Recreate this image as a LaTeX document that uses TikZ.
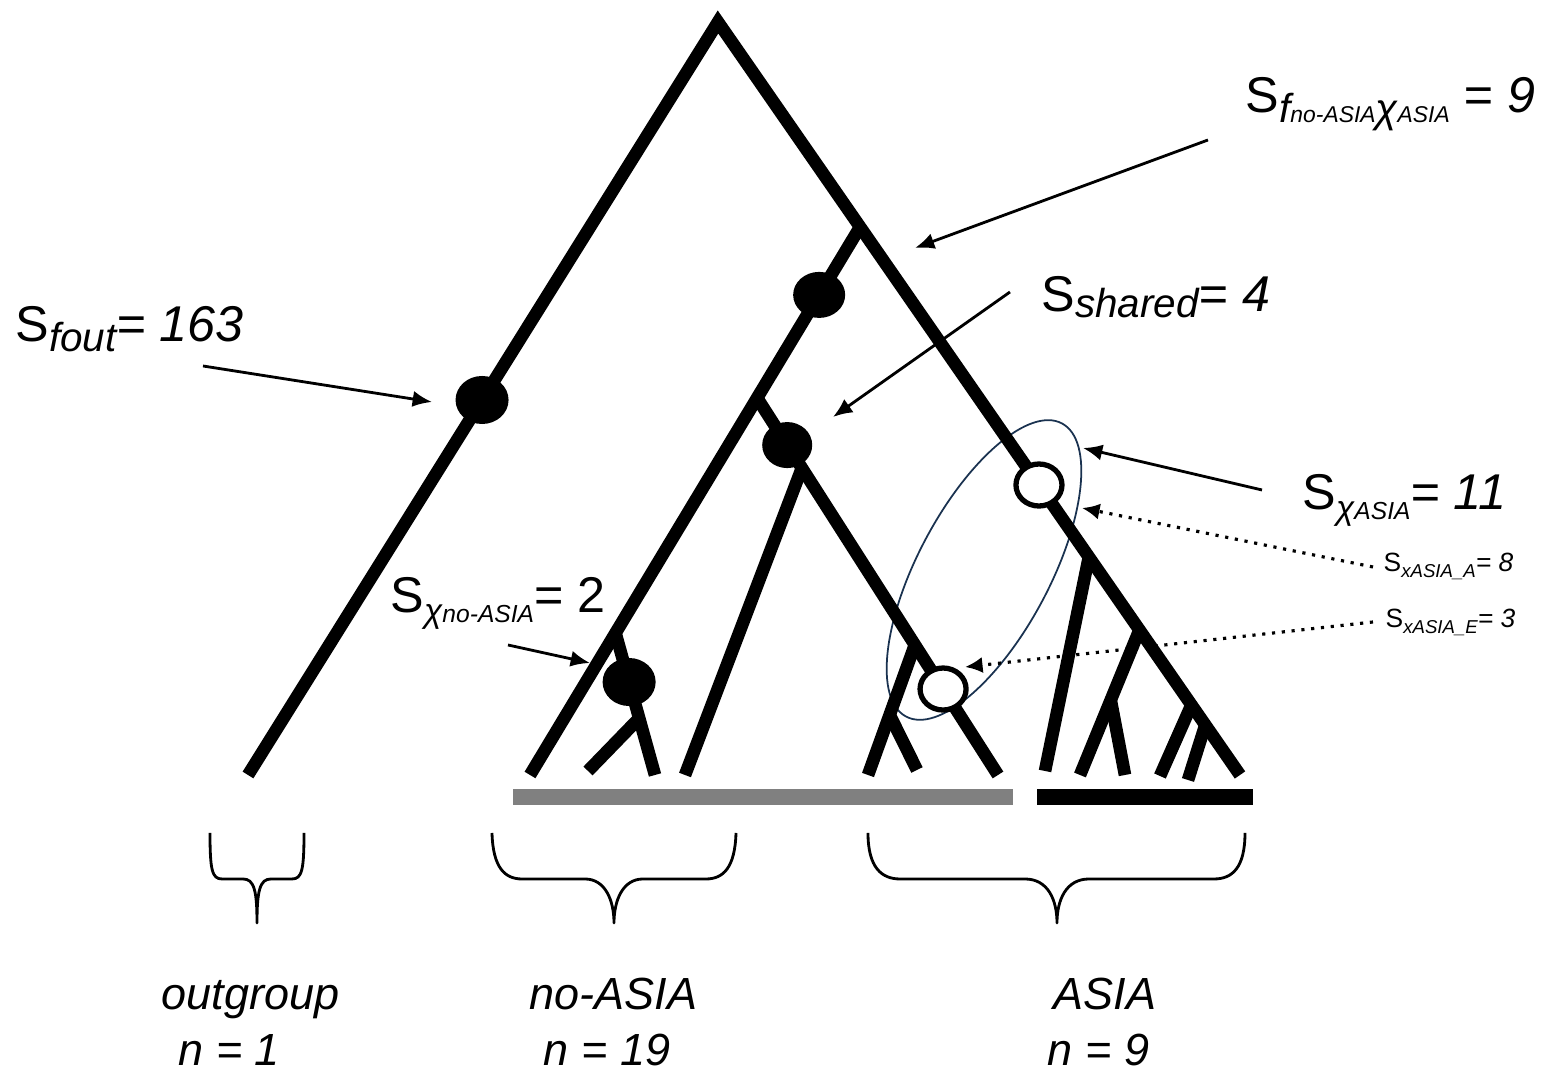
\documentclass[tikz,border=0pt]{standalone}
\usepackage{fontspec}
\setmainfont{Liberation Sans}
\usetikzlibrary{arrows.meta,calc,shapes.geometric}

% font size helpers
\newcommand{\szBig}{\fontsize{14.3}{16}\selectfont}
\newcommand{\szSub}{\fontsize{11.5}{13}\selectfont\itshape}
\newcommand{\szChi}{\fontsize{9.5}{10}\selectfont\itshape}
\newcommand{\szLab}{\fontsize{12.8}{14}\selectfont\itshape}

\begin{document}
\begin{tikzpicture}[x=0.01cm,y=-0.01cm,
  branch/.style={line width=3.6pt, line cap=butt},
  solidmut/.style={ellipse, fill=black, inner sep=0pt, minimum width=0.53cm, minimum height=0.48cm},
  openmut/.style={ellipse, draw=black, line width=1.5pt, fill=white, inner sep=0pt, minimum width=0.46cm, minimum height=0.42cm},
  ptr/.style={line width=0.8pt, -{Latex[length=5.5pt,width=4.6pt]}},
  dotptr/.style={line width=0.9pt, dash pattern=on 0.9pt off 1.9pt, -{Latex[length=5pt,width=4.6pt]}},
  lbl/.style={anchor=base west, inner sep=0pt},
  brace/.style={line width=0.8pt, line join=round}]

\useasboundingbox (0,0) rectangle (1544,1071);

% grouping ellipse around the two open marks
\draw[draw={rgb,255:red,26;green,50;blue,80}, line width=0.5pt]
  (984,570) ellipse [x radius=166, y radius=66, rotate=62];

% ---- tree skeleton ----
\coordinate (root) at (718,22);
\coordinate (outL) at (248,775);
\coordinate (asiaR) at (1240,775);
\draw[branch, line join=miter] (outL) -- (root) -- (asiaR);

% junctions on the right main branch
\coordinate (j1)  at ($(root)!0.2722!(asiaR)$);
\coordinate (ja1) at ($(root)!0.7105!(asiaR)$);
\coordinate (ja2) at ($(root)!0.8074!(asiaR)$);
\coordinate (ja3) at ($(root)!0.9070!(asiaR)$);
\coordinate (ja4) at ($(root)!0.9336!(asiaR)$);

% no-ASIA clade
\coordinate (nl) at (530,775);
\draw[branch] (j1) -- (nl);
\coordinate (j2) at ($(j1)!0.312!(nl)$);
\coordinate (j3) at ($(j1)!0.741!(nl)$);

\coordinate (sl) at (998,775);
\draw[branch] (j2) -- (sl);
\coordinate (j4) at ($(j2)!0.186!(sl)$);
\coordinate (j5) at ($(j2)!0.655!(sl)$);

\coordinate (l4) at (685,775);
\draw[branch] (j4) -- (l4);

\coordinate (l5) at (868,775);
\draw[branch] (j5) -- (l5);
\coordinate (j6) at ($(j5)!0.538!(l5)$);
\coordinate (l6) at (917,770);
\draw[branch] (j6) -- (l6);

\coordinate (l3) at (655,775);
\draw[branch] (j3) -- (l3);
\coordinate (j7) at ($(j3)!0.6!(l3)$);
\coordinate (l7) at (588,771);
\draw[branch] (j7) -- (l7);

% ASIA clade
\coordinate (la1) at (1045,771);
\draw[branch] (ja1) -- (la1);
\coordinate (la2) at (1080,775);
\draw[branch] (ja2) -- (la2);
\coordinate (j8) at ($(ja2)!0.483!(la2)$);
\coordinate (l8) at (1125,775);
\draw[branch] (j8) -- (l8);
\coordinate (la3) at (1160,776);
\draw[branch] (ja3) -- (la3);
\coordinate (la4) at (1188,780);
\draw[branch] (ja4) -- (la4);

% ---- marks on branches ----
\node[solidmut] (m1) at ($(root)!0.502!(outL)$) {};
\node[solidmut, minimum width=0.52cm, minimum height=0.46cm] (m2) at ($(j1)!0.124!(nl)$) {};
\node[solidmut, minimum width=0.50cm, minimum height=0.46cm] (m3) at ($(j2)!0.125!(sl)$) {};
\node[solidmut] (m4) at ($(j3)!0.345!(l3)$) {};
\node[openmut] (w1) at ($(root)!0.6149!(asiaR)$) {};
\node[openmut] (w2) at ($(j2)!0.772!(sl)$) {};

% ---- clade bars ----
\fill[black!50] (513,789) rectangle (1013,805);
\fill[black] (1037,789) rectangle (1253,805);

% ---- braces ----
\draw[brace] (210,833) .. controls (210,870) and (212,879) .. (222,879) -- (243,879)
  .. controls (254,879) and (257,890) .. (257,923)
  .. controls (257,890) and (260,879) .. (271,879) -- (292,879)
  .. controls (302,879) and (304,870) .. (304,833);
\draw[brace] (492,833) .. controls (493,868) and (505,879) .. (522,879) -- (585,879)
  .. controls (605,879) and (614,900) .. (614,923)
  .. controls (614,900) and (623,879) .. (643,879) -- (706,879)
  .. controls (723,879) and (735,868) .. (736,833);
\draw[brace] (868,833) .. controls (868,868) and (882,879) .. (900,879) -- (1025,879)
  .. controls (1048,879) and (1057,900) .. (1057,923)
  .. controls (1057,900) and (1066,879) .. (1089,879) -- (1214,879)
  .. controls (1232,879) and (1245,868) .. (1245,833);

% ---- labels ----
\node[lbl] (sfout) at (15,342) {\szBig S\lower2.8pt\hbox{\szSub fout}\itshape= 163};
\node[lbl] (sfx) at (1245,113) {\szBig S\lower2.6pt\hbox{\szSub f\fontsize{6.5}{7}\selectfont no-ASIA\szSub χ\fontsize{6.5}{7}\selectfont ASIA}\itshape{} = 9};
\node[lbl] (sshared) at (1041,312) {\szBig S\lower1.5pt\hbox{\szSub shared}\itshape= 4};
\node[lbl] (sxasia) at (1302,510) {\szBig S\lower2.8pt\hbox{\szChi χ\fontsize{7}{8}\selectfont ASIA}\itshape= 11};
\node[lbl] (sxno) at (390,613) {\szBig S\lower2.8pt\hbox{\szChi χ\fontsize{7}{8}\selectfont no-ASIA}= 2};
\node[lbl] (sa) at (1383,572) {\fontsize{7.5}{9}\selectfont S\lower1.7pt\hbox{\fontsize{5.3}{6}\selectfont\itshape xASIA\char95 A}\itshape= 8};
\node[lbl] (se) at (1385,628) {\fontsize{7.5}{9}\selectfont S\lower1.7pt\hbox{\fontsize{5.3}{6}\selectfont\itshape xASIA\char95 E}\itshape= 3};

\node[lbl] (og)  at (161,1010) {\szLab outgroup};
\node[lbl] (ogn) at (178,1066) {\szLab n = 1};
\node[lbl] (na)  at (529,1010) {\szLab no-ASIA};
\node[lbl] (nan) at (543,1066) {\szLab n = 19};
\node[lbl] (as)  at (1053,1010) {\szLab ASIA};
\node[lbl] (asn) at (1047,1066) {\szLab n = 9};

% ---- pointers ----
\coordinate (pfoutT) at (203,366);   \coordinate (pfoutH) at (432,402);
\coordinate (pfxT)   at (1208,140);  \coordinate (pfxH)   at (915,248);
\coordinate (pshT)   at (1010,292);  \coordinate (pshH)   at (833,417);
\coordinate (pxaT)   at (1262,490);  \coordinate (pxaH)   at (1083,448);
\coordinate (pxnT)   at (508,645);   \coordinate (pxnH)   at (590,663);
\coordinate (paT)    at (1373,567);  \coordinate (paH)    at (1082,508);
\coordinate (peT)    at (1373,622);  \coordinate (peH)    at (965,667);

\draw[ptr] (pfoutT) -- (pfoutH);
\draw[ptr] (pfxT) -- (pfxH);
\draw[ptr] (pshT) -- (pshH);
\draw[ptr] (pxaT) -- (pxaH);
\draw[ptr] (pxnT) -- (pxnH);
\draw[dotptr] (paT) -- (paH);
\draw[dotptr] (peT) -- (peH);

\end{tikzpicture}
\end{document}
